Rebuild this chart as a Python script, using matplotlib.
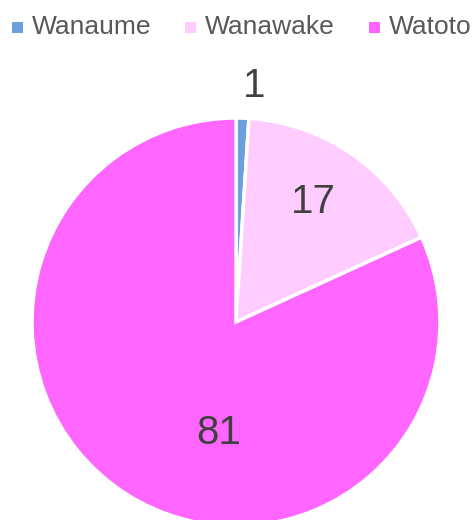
import numpy as np
import matplotlib
matplotlib.use("Agg")
import matplotlib.pyplot as plt
from matplotlib.patches import Rectangle

categories = ["Wanaume", "Wanawake", "Watoto"]
values = [1, 17, 81]
colors = ["#6d9fdc", "#ffccff", "#ff66ff"]

plt.rcParams["font.family"] = ["Liberation Sans Narrow", "Liberation Sans", "DejaVu Sans"]

W, H = 476, 520
fig = plt.figure(figsize=(W / 100, H / 100), dpi=100)

# pie centre and radius in pixels
cx, cy, r = 236, 322, 204
ax = fig.add_axes([0, 0, 1, 1])
wedges, _ = ax.pie(values, colors=colors, startangle=90, counterclock=False,
                   wedgeprops=dict(edgecolor="white", linewidth=2.5))
ax.set_aspect("auto")
ax.set_xlim(-cx / r, (W - cx) / r)
ax.set_ylim(-(H - cy) / r, cy / r)
ax.axis("off")

# label placement: (distance, angle tweak in degrees)
label_pos = [(1.16, -2.5), (0.70, 2.0), (0.55, 24.0)]
for w, v, (d, tweak) in zip(wedges, values, label_pos):
    ang = np.deg2rad((w.theta1 + w.theta2) / 2 + tweak)
    ax.text(d * np.cos(ang), d * np.sin(ang), str(v), ha="center", va="center",
            fontsize=29, color="#404040")

# legend across the top
leg_x = [12, 185, 369]
for x, name, c in zip(leg_x, categories, colors):
    fig.add_artist(Rectangle((x / W, 1 - 33 / H), 11 / W, 11 / H,
                             transform=fig.transFigure, color=c, lw=0))
    fig.text((x + 20) / W, 1 - 27 / H, name, ha="left", va="center",
             fontsize=19, color="#595959")

fig.savefig("out.png", dpi=100)
